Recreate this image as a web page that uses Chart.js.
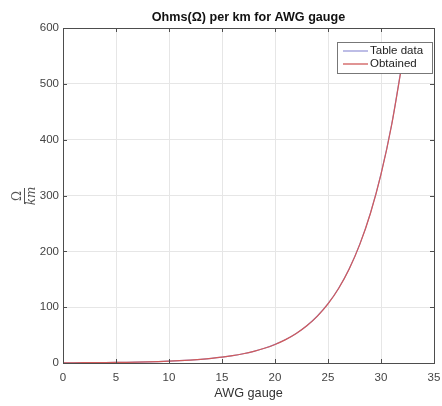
<!DOCTYPE html>
<html lang="en">
<head>
  <meta charset="UTF-8" />
  <title>Ohms per km for AWG gauge</title>
  <script src="https://cdn.jsdelivr.net/npm/chart.js"></script>
  <style>
    html, body { margin: 0; padding: 0; background: #fff; }
    #wrap { width: 442px; height: 406px; }
  </style>
</head>
<body>
  <div id="wrap"><canvas id="awgChart" width="442" height="406"></canvas></div>
  <script>
    // AWG gauge numbers
    const gauges = [0, 1, 2, 3, 4, 5, 6, 7, 8, 9, 10, 11, 12, 13, 14, 15, 16,
      17, 18, 19, 20, 21, 22, 23, 24, 25, 26, 27, 28, 29, 30, 31, 32];
    // ohms per km, from the table
    const tableData = [0.3224, 0.4066, 0.5127, 0.6465, 0.8152, 1.028, 1.296, 1.634,
      2.061, 2.599, 3.277, 4.132, 5.211, 6.571, 8.286, 10.45, 13.17, 16.61, 20.95,
      26.42, 33.31, 42.00, 52.96, 66.79, 84.22, 106.2, 133.9, 168.9, 212.9, 268.5,
      338.6, 426.9, 538.3];
    // ohms per km, obtained
    const obtained = [0.321, 0.405, 0.511, 0.645, 0.813, 1.025, 1.293, 1.630, 2.055,
      2.592, 3.268, 4.121, 5.197, 6.553, 8.263, 10.42, 13.14, 16.57, 20.89, 26.34,
      33.22, 41.89, 52.82, 66.60, 83.99, 105.9, 133.5, 168.4, 212.4, 267.8, 337.7,
      425.8, 536.9];
    const xTicks = [0, 5, 10, 15, 20, 25, 30, 35];
    const yTicks = [0, 100, 200, 300, 400, 500, 600];
    const titleText = 'Ohms(Ω) per km for AWG gauge';

    const blue = '#9a9ad8';
    const red = '#d05a5a';
    const font = "'Liberation Sans', Arial, sans-serif";

    // box, inner ticks, title, rotated Ω/km label and legend
    const extras = {
      id: 'extras',
      afterDraw(chart) {
        const { ctx, chartArea: a, scales } = chart;
        ctx.save();
        ctx.strokeStyle = '#4d4d4d';
        ctx.lineWidth = 1;
        ctx.strokeRect(a.left + 0.5, a.top + 0.5, a.right - a.left, a.bottom - a.top);
        ctx.beginPath();
        xTicks.forEach(v => {
          const px = Math.round(scales.x.getPixelForValue(v)) + 0.5;
          ctx.moveTo(px, a.bottom); ctx.lineTo(px, a.bottom - 4);
          ctx.moveTo(px, a.top); ctx.lineTo(px, a.top + 4);
        });
        yTicks.forEach(v => {
          const py = Math.round(scales.y.getPixelForValue(v)) + 0.5;
          ctx.moveTo(a.left, py); ctx.lineTo(a.left + 4, py);
          ctx.moveTo(a.right, py); ctx.lineTo(a.right - 4, py);
        });
        ctx.stroke();

        // title over the plot area
        ctx.fillStyle = '#111';
        ctx.font = 'bold 12.6px ' + font;
        ctx.textAlign = 'center';
        ctx.textBaseline = 'middle';
        ctx.fillText(titleText, (a.left + a.right) / 2, 18);

        // y label as a fraction
        ctx.translate(24, 196);
        ctx.rotate(-Math.PI / 2);
        ctx.fillStyle = '#555';
        ctx.textBaseline = 'alphabetic';
        ctx.font = "12px 'DejaVu Serif', serif";
        ctx.fillText('Ω', 0, -3);
        ctx.fillRect(-8, 0, 16, 1);
        ctx.font = "italic 12px 'DejaVu Serif', serif";
        ctx.fillText('km', 0, 11);
        ctx.restore();

        // legend
        ctx.save();
        const lx = 337, ly = 42, lw = 95, lh = 31;
        ctx.fillStyle = '#fff';
        ctx.fillRect(lx, ly, lw, lh);
        ctx.strokeStyle = '#777';
        ctx.lineWidth = 1;
        ctx.strokeRect(lx + 0.5, ly + 0.5, lw, lh);
        const items = [['Table data', blue], ['Obtained', red]];
        ctx.font = '11.5px ' + font;
        ctx.textBaseline = 'middle';
        items.forEach((it, i) => {
          const y = ly + 9 + i * 13;
          ctx.strokeStyle = it[1];
          ctx.lineWidth = 1.3;
          ctx.beginPath();
          ctx.moveTo(lx + 6, y);
          ctx.lineTo(lx + 31, y);
          ctx.stroke();
          ctx.fillStyle = '#222';
          ctx.fillText(it[0], lx + 33, y);
        });
        ctx.restore();
      }
    };

    new Chart(document.getElementById('awgChart'), {
      type: 'line',
      data: {
        datasets: [
          {
            label: 'Obtained',
            data: gauges.map((g, i) => ({ x: g, y: obtained[i] })),
            borderColor: red,
            borderWidth: 1.2,
            pointRadius: 0,
            cubicInterpolationMode: 'monotone'
          },
          {
            label: 'Table data',
            data: gauges.map((g, i) => ({ x: g, y: tableData[i] })),
            borderColor: blue,
            borderWidth: 1.2,
            pointRadius: 0,
            cubicInterpolationMode: 'monotone'
          }
        ]
      },
      options: {
        responsive: false,
        animation: false,
        layout: { padding: { left: 0, right: 8, top: 28, bottom: 0 } },
        plugins: {
          legend: { display: false },
          tooltip: { enabled: false },
          title: { display: false }
        },
        scales: {
          x: {
            type: 'linear',
            min: 0,
            max: 35,
            afterBuildTicks: s => { s.ticks = xTicks.map(v => ({ value: v })); },
            afterFit: s => { s.height = 43; s.paddingRight = 0; s.paddingLeft = 0; },
            grid: { color: '#e6e6e6', drawTicks: false },
            border: { display: false },
            ticks: { color: '#444', font: { family: font, size: 11.5 }, padding: 8 },
            title: {
              display: true,
              text: 'AWG gauge',
              color: '#333',
              font: { family: font, size: 12.7 },
              padding: { top: 0, bottom: 5 }
            }
          },
          y: {
            type: 'linear',
            min: 0,
            max: 600,
            afterBuildTicks: s => { s.ticks = yTicks.map(v => ({ value: v })); },
            afterFit: s => { s.width = 63; s.paddingTop = 0; s.paddingBottom = 0; },
            grid: { color: '#e6e6e6', drawTicks: false },
            border: { display: false },
            ticks: { color: '#444', font: { family: font, size: 11.5 }, padding: 4 }
          }
        }
      },
      plugins: [extras]
    });
  </script>
</body>
</html>
